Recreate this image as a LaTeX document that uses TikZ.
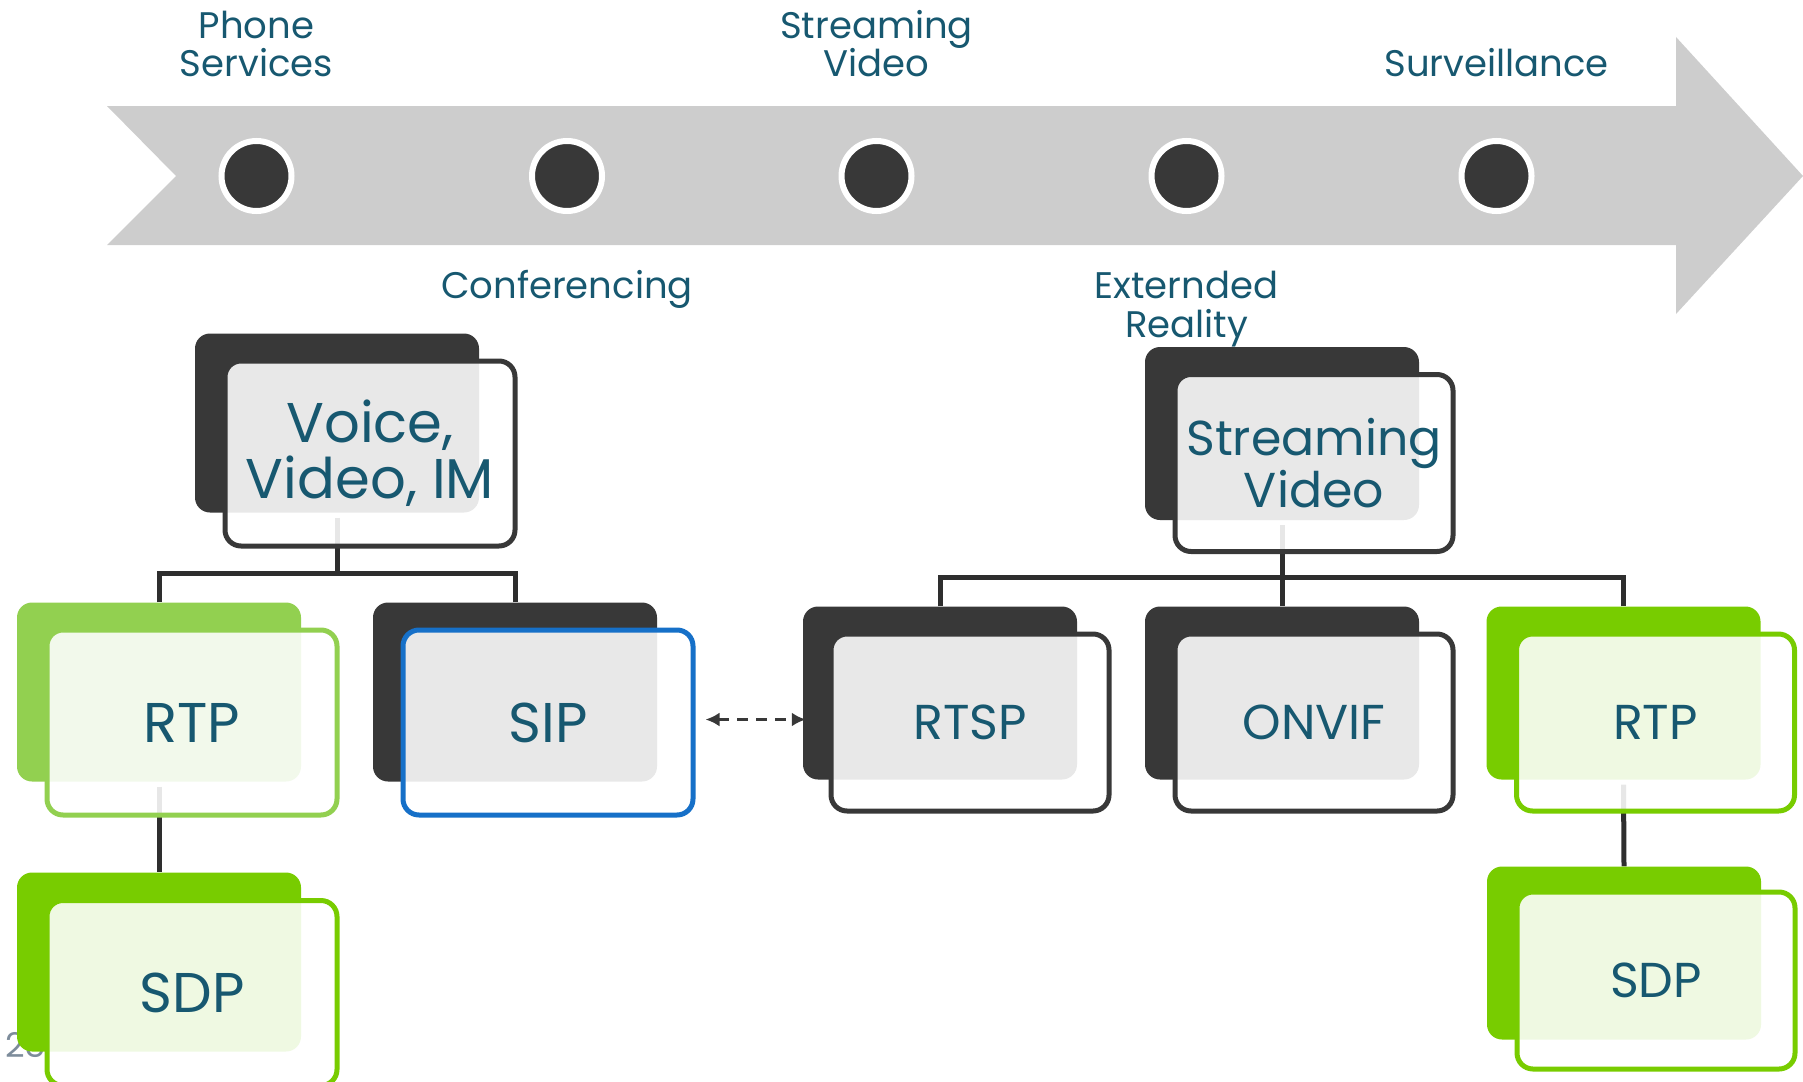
\documentclass[tikz,border=0pt]{standalone}
\usepackage{fontspec}
\setmainfont{Poppins}
\usetikzlibrary{arrows.meta,calc,backgrounds}
\definecolor{dk}{RGB}{56,56,56}
\definecolor{conncol}{RGB}{46,46,46}
\definecolor{tl}{RGB}{205,205,205}
\definecolor{teal}{RGB}{23,88,112}
\definecolor{lgreen}{RGB}{146,208,80}
\definecolor{bgreen}{RGB}{120,204,0}
\definecolor{sipblue}{RGB}{22,112,200}
\definecolor{pgnum}{RGB}{125,140,155}
\tikzset{
  darkbox/.style={rectangle, fill=#1, rounded corners=15pt, inner sep=0pt},
  frontbox/.style={rectangle, draw=#1, line width=5pt, fill=white, fill opacity=0.885, text opacity=1,
    rounded corners=16pt, inner sep=0pt, text=teal, align=center},
  lsize/.style={minimum width=284pt, minimum height=179pt},
  lfsize/.style={minimum width=290pt, minimum height=185pt, font=\fontsize{56}{56}\selectfont},
  rsize/.style={minimum width=274pt, minimum height=173pt},
  rfsize/.style={minimum width=278pt, minimum height=177pt, font=\fontsize{49}{52}\selectfont},
  lbl/.style={anchor=base, text=teal, font=\fontsize{37}{40}\selectfont, inner sep=0pt},
  dot/.style={circle, fill=dk, draw=white, line width=6pt, minimum size=70pt, inner sep=0pt},
  conn/.style={draw=conncol, line width=5pt},
  dasharr/.style={draw=dk, line width=3.2pt, dash pattern=on 11pt off 8pt,
    {Latex[length=14pt,width=14pt]}-{Latex[length=14pt,width=14pt]}}
}
\begin{document}
\begin{tikzpicture}[x=1pt,y=-1pt]
\clip (0,0) rectangle (1803,1081);

% timeline arrow
\fill[tl] (107,106) -- (1676,106) -- (1676,37) -- (1803,176) -- (1676,314) -- (1676,245) -- (107,245) -- (176,176) -- cycle;

\node[dot] (c1) at (256.5,176) {};
\node[dot] (c2) at (567,176) {};
\node[dot] (c3) at (876.5,176) {};
\node[dot] (c4) at (1186.5,176) {};
\node[dot] (c5) at (1496.5,176) {};

\node[lbl] (phone) at (256.5,38) {Phone};
\node[lbl] (services) at (256.5,77) {Services};
\node[lbl] (stream1) at (876.5,38) {Streaming};
\node[lbl] (video1) at (876.5,77) {Video};
\node[lbl] (surv) at (1496.5,77) {Surveillance};
\node[lbl] (conf) at (567,298) {Conferencing};
\node[lbl] (ext) at (1186.5,298) {Externded};
\node[lbl] (real) at (1186.5,337) {Reality};

% left hierarchy
\node[darkbox=dk, lsize] (vD) at (337,423) {};
\node[darkbox=lgreen, lsize] (rtpLD) at (159,692) {};
\node[darkbox=dk, lsize] (sipD) at (515,692) {};
\node[darkbox=bgreen, lsize] (sdpLD) at (159,962) {};

\node[frontbox=dk, lfsize] (vF) at (370,453.5) {Voice,\\Video, IM};
\node[frontbox=lgreen, lfsize] (rtpLF) at (192,722.5) {RTP};
\node[frontbox=sipblue, lfsize] (sipF) at (548,722.5) {SIP};
\node[frontbox=bgreen, lfsize] (sdpLF) at (192,993) {SDP};

% right hierarchy
\node[darkbox=dk, rsize] (svD) at (1282,433.5) {};
\node[darkbox=dk, rsize] (rtspD) at (940,693) {};
\node[darkbox=dk, rsize] (onvifD) at (1282,693) {};
\node[darkbox=bgreen, rsize] (rtpRD) at (1623.5,693) {};
\node[darkbox=bgreen, rsize] (sdpRD) at (1624,953) {};

\node[frontbox=dk, rfsize] (svF) at (1314,463) {Streaming\\Video};
\node[frontbox=dk, rfsize] (rtspF) at (970,722.5) {RTSP};
\node[frontbox=dk, rfsize] (onvifF) at (1314,722.5) {ONVIF};
\node[frontbox=bgreen, rfsize] (rtpRF) at (1655.5,722.5) {RTP};
\node[frontbox=bgreen, rfsize] (sdpRF) at (1656,980.5) {SDP};

\begin{pgfonlayer}{background}
  \node[anchor=base west, text=pgnum, font=\fontsize{34}{34}\selectfont, inner sep=0pt] (pg) at (5,1057) {25};
  \coordinate (barL) at (337,573.5);
  \draw[conn] ($(vD.south)+(0,5)$) -- (barL);
  \draw[conn] (rtpLD.north) |- (barL);
  \draw[conn] (sipD.north) |- (barL);
  \draw[conn] ($(rtpLD.south)+(0,5)$) -- (sdpLD.north);
  \coordinate (barR) at (1282,577);
  \draw[conn] ($(svD.south)+(0,5)$) -- (onvifD.north);
  \draw[conn] (rtspD.north) |- (barR);
  \draw[conn] (rtpRD.north) |- (barR);
  \draw[conn] ($(rtpRD.south)+(0,5)$) -- (sdpRD.north);
\end{pgfonlayer}

\draw[dasharr] ($(sipF.east)+(10,-3)$) -- ($(rtspD.west)+(3,26.5)$);
\end{tikzpicture}
\end{document}
